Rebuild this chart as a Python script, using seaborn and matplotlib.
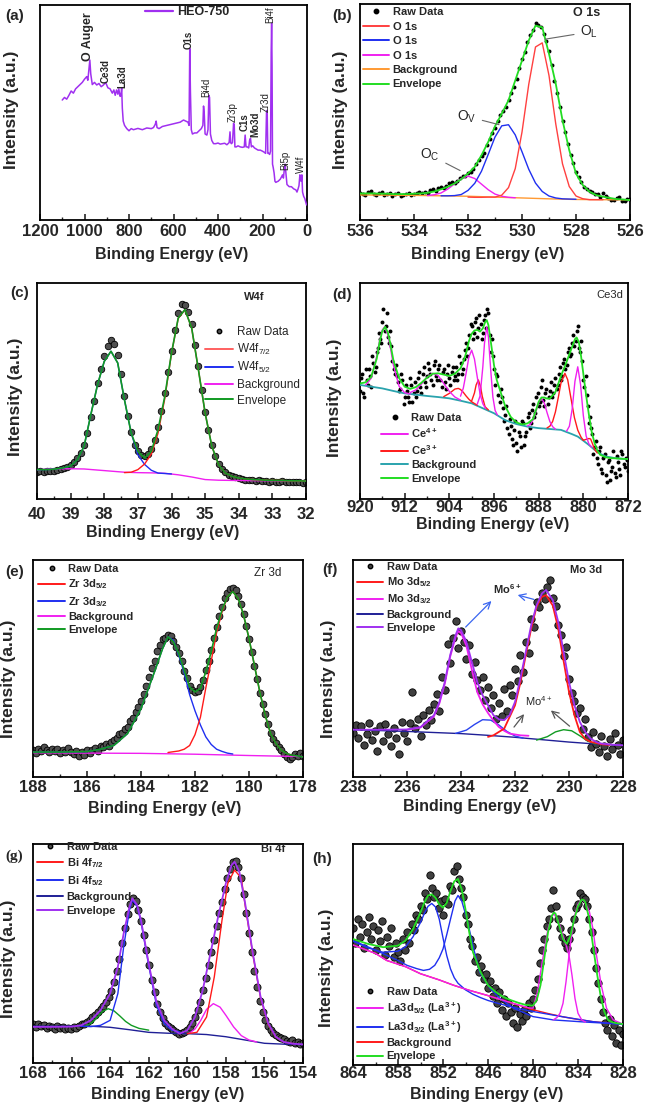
"""
XPS spectra of HEO-750: survey (a) and core levels (b)-(h).
"""

import matplotlib

matplotlib.use("Agg")
import matplotlib.pyplot as plt
import numpy as np
import pandas as pd
import seaborn as sns
from matplotlib.lines import Line2D
from matplotlib.ticker import MultipleLocator

nan = np.nan

# ---------------------------------------------------------------- (a) survey
survey_be = [1100, 1090, 1080, 1070, 1060, 1050, 1040, 1030, 1020, 1010,
             1000, 990, 985, 980, 976, 972, 965, 955, 945, 935,
             925, 915, 905, 895, 885, 875, 868, 862, 856, 850,
             846, 840, 836, 833, 830, 826, 820, 810, 800, 790,
             780, 760, 740, 720, 700, 690, 682, 678, 674, 665,
             650, 630, 610, 590, 570, 555, 545, 535, 530, 527,
             524, 520, 515, 505, 495, 485, 475, 468, 465, 462,
             458, 450, 445, 441, 438, 434, 428, 420, 410, 400,
             390, 380, 370, 360, 350, 346, 343, 340, 335, 330,
             327, 324, 318, 310, 300, 290, 282, 278, 274, 268,
             262, 258, 254, 250, 244, 236, 228, 220, 210, 200,
             192, 186, 182, 179, 176, 172, 168, 164, 161, 159,
             157, 155, 152, 148, 144, 140, 135, 130, 125, 120,
             115, 110, 106, 102, 98, 95, 90, 85, 80, 70,
             60, 50, 45, 40, 36, 32, 29, 26, 23, 20,
             15, 10, 5, 2]
survey_int = [55.8, 57.0, 56.2, 58.0, 60.0, 59.0, 61.0, 62.0, 63.0, 64.0,
              65.5, 66.7, 65.0, 70.0, 74.4, 68.0, 63.0, 64.0, 62.8, 63.5,
              62.0, 62.8, 64.0, 61.5, 61.0, 59.0, 60.5, 58.0, 60.5, 58.5,
              61.0, 57.5, 58.0, 61.5, 52.0, 46.0, 44.0, 42.5, 41.5, 42.5,
              42.0, 42.6, 42.0, 42.8, 42.5, 43.0, 44.5, 46.0, 43.0, 42.5,
              43.5, 44.0, 44.5, 45.0, 45.5, 46.5, 46.0, 45.5, 44.0, 79.8,
              60.0, 42.0, 40.0, 40.5, 40.5, 41.5, 42.5, 44.0, 53.0, 50.0,
              40.0, 39.5, 42.0, 58.0, 57.0, 40.0, 37.0, 35.5, 35.5, 35.8,
              35.3, 35.5, 35.7, 35.0, 36.0, 41.0, 36.0, 35.5, 36.0, 45.0,
              44.0, 34.0, 34.0, 34.5, 34.0, 33.8, 34.0, 39.5, 34.0, 34.0,
              33.5, 37.0, 38.0, 34.0, 34.5, 33.5, 33.0, 32.5, 32.5, 32.0,
              31.5, 31.0, 50.0, 51.0, 31.0, 31.0, 30.5, 32.0, 78.0, 91.5,
              72.0, 26.0, 24.5, 22.0, 18.0, 17.5, 17.8, 18.0, 18.5, 19.0,
              20.0, 21.0, 19.5, 23.5, 26.0, 22.0, 16.5, 16.0, 15.5, 15.5,
              14.5, 14.0, 13.0, 14.5, 16.0, 21.0, 19.0, 18.0, 21.0, 13.0,
              11.0, 10.0, 8.0, 7.0]
survey_labels = ["O Auger", "Ce3d", "La3d", "O1s", "Bi4d", "Zr3p", "C1s",
                 "Mo3d", "Zr3d", "Bi4f", "Bi5p", "W4f"]
survey_label_be = [983, 904, 829, 533, 455, 334, 282, 232, 186, 166, 96, 25]
survey_label_int = [74.0, 63.6, 61.2, 79.5, 57.4, 45.7, 41.4, 38.8, 50.4,
                    91.5, 23.3, 21.7]

# ---------------------------------------------------------------- (b) O 1s
o1s_raw_range = (536.0, 526.0)
o1s_raw = [12.5, 12.0, 11.8, 12.9, 13.4, 12.2, 11.6, 12.4, 12.9, 11.5,
           12.1, 12.7, 11.3, 11.9, 12.4, 11.2, 11.7, 12.2, 12.6, 11.6,
           11.9, 12.5, 12.8, 12.3, 13.1, 12.7, 13.9, 14.4, 13.5, 14.6,
           15.2, 14.8, 15.6, 16.9, 17.4, 17.0, 18.1, 19.4, 20.6, 20.2,
           21.9, 22.4, 23.5, 25.9, 27.8, 29.5, 31.2, 34.9, 37.6, 40.1,
           42.8, 45.9, 48.5, 50.3, 52.1, 55.7, 58.9, 61.8, 65.4, 70.2,
           74.6, 78.0, 82.3, 85.6, 88.1, 91.0, 90.5, 89.4, 86.2, 82.9,
           78.4, 71.9, 64.5, 58.6, 52.3, 46.0, 40.8, 35.2, 30.1, 26.3,
           22.4, 19.8, 17.6, 15.3, 14.2, 13.6, 13.0, 12.1, 11.9, 10.8,
           12.4, 11.0, 10.1, 9.4, 9.2, 10.3, 10.6, 9.0, 8.9, 9.9, 9.7]
o1s_env_range = (536.0, 526.0)
o1s_env = [12.3, 12.3, 12.3, 12.2, 12.2, 12.0, 12.0, 12.0, 12.2, 12.3,
           12.6, 13.2, 14.2, 15.4, 16.9, 18.9, 21.5, 24.6, 30.0, 36.2,
           43.4, 49.2, 55.4, 64.6, 73.8, 83.1, 90.0, 89.2, 76.9, 63.1,
           46.2, 32.3, 21.5, 16.2, 13.1, 11.5, 10.8, 10.2, 9.7, 9.5, 9.2]
o1s_ol_range = (532.0, 527.0)
o1s_ol = [10.6, 10.5, 10.5, 10.6, 10.6, 11.5, 15.0, 23.8, 40.7, 62.8,
          80.1, 82.0, 66.9, 44.5, 26.0, 15.5, 11.1, 9.85, 9.4, 9.4, 9.4]
o1s_ov_range = (533.0, 528.0)
o1s_ov = [11.2, 11.2, 11.3, 11.8, 13.7, 17.0, 22.6, 30.4, 38.4, 43.6,
          44.1, 39.4, 31.6, 23.5, 17.1, 13.2, 11.1, 10.2, 9.8, 9.7, 9.6]
o1s_oc_range = (533.5, 530.25)
o1s_oc = [11.3, 11.7, 12.5, 14.3, 16.7, 19.2, 20.3, 19.2, 16.6, 14.0,
          12.0, 11.0, 10.5, 10.3]
o1s_bg_be = [536, 534, 533, 532, 531, 530, 529, 528, 527, 526]
o1s_bg = [11.6, 11.4, 11.2, 11.0, 10.6, 10.2, 9.8, 9.5, 9.4, 9.3]

# ---------------------------------------------------------------- (c) W 4f
w4f_raw_range = (40.0, 32.0)
w4f_raw = [12.6, 12.9, 12.4, 12.8, 13.1, 13.0, 13.4, 13.9, 14.3, 15.0,
           15.9, 17.0, 18.9, 21.3, 25.1, 30.4, 37.9, 45.6, 53.5, 60.4,
           66.2, 70.8, 73.6, 71.9, 66.8, 57.9, 47.6, 38.2, 31.0, 25.2,
           22.4, 20.6, 20.1, 21.0, 23.2, 27.4, 33.4, 40.6, 49.2, 58.8,
           68.5, 78.4, 85.9, 90.2, 89.6, 86.4, 80.8, 71.5, 61.4, 50.4,
           40.5, 32.0, 25.1, 19.9, 16.4, 14.0, 12.4, 11.3, 10.6, 10.1,
           9.6, 9.3, 9.0, 8.6, 8.9, 8.4, 8.7, 8.2, 8.5, 8.0,
           8.3, 8.1, 7.9, 8.2, 7.8, 8.0, 7.7, 8.1, 7.8, 7.6, 7.9]
w4f_env_range = (40.0, 32.0)
w4f_env = [13.6, 13.6, 13.7, 14.0, 14.5, 15.3, 18.2, 24.4, 39.0, 52.9,
           63.7, 68.4, 63.0, 46.0, 30.6, 22.1, 19.0, 22.1, 32.1, 47.5,
           67.6, 83.8, 87.7, 79.2, 59.9, 39.8, 24.4, 15.9, 12.0, 10.5,
           9.7, 9.3, 9.0, 8.9, 8.7, 8.6, 8.6, 8.5, 8.4, 8.4, 8.3]
w4f_52_range = (40.0, 36.0)
w4f_52 = [13.6, 13.6, 13.7, 14.0, 14.5, 15.3, 18.2, 24.4, 39.0, 52.9,
          63.7, 68.4, 63.0, 46.0, 30.6, 20.5, 16.0, 13.3, 12.0, 11.8, 11.6]
w4f_72_range = (37.4, 32.0)
w4f_72 = [12.2, 12.4, 13.6, 16.2, 20.8, 30.5, 46.5, 67.4, 83.6, 87.6,
          79.2, 59.9, 39.8, 24.4, 15.9, 12.0, 10.5, 9.7, 9.3, 9.0,
          8.9, 8.7, 8.6, 8.6, 8.5, 8.4, 8.4, 8.3]
w4f_bg_be = [40, 39.6, 39.0, 38.6, 38.2, 37.8, 37.4, 37.0, 36.6, 36.2,
             35.8, 35.4, 35.0, 34.6, 34.2, 33.6, 32.0]
w4f_bg = [13.5, 14.0, 14.0, 13.9, 13.4, 12.9, 12.4, 12.2, 12.1, 11.9,
          11.2, 10.2, 9.0, 8.7, 8.6, 8.5, 8.3]

# ---------------------------------------------------------------- (d) Ce 3d
# two interleaved scans of the noisy raw data
ce_raw_range = (920.0, 872.0)
ce_raw = [50, 58, 47, 55, 60, 52, 63, 61, 70, 74, 82, 78, 86, 72, 71, 60,
          62, 54, 51, 55, 47, 50, 45, 53, 49, 47, 56, 52, 58, 54, 57, 60,
          55, 62, 57, 60, 55, 59, 54, 58, 56, 59, 55, 61, 58, 63, 60, 69,
          66, 76, 80, 77, 84, 79, 81, 77, 85, 88, 76, 74, 60, 58, 48, 51,
          42, 39, 33, 37, 28, 32, 26, 31, 24, 35, 29, 38, 33, 41, 38, 47,
          43, 52, 46, 49, 44, 50, 47, 53, 51, 58, 55, 63, 60, 68, 66, 72,
          71, 78, 70, 73, 55, 57, 43, 38, 30, 24, 19, 22, 14, 19, 11, 17,
          9, 15, 12, 20, 14, 22, 16, 19, 13]
ce_raw2_range = (919.8, 872.2)
ce_raw2 = [56, 49, 60, 53, 57, 66, 59, 68, 77, 72, 88, 80, 75, 78, 64, 58,
           57, 50, 58, 44, 53, 47, 56, 45, 54, 50, 59, 49, 61, 52, 63, 58,
           53, 64, 55, 62, 52, 60, 51, 62, 53, 61, 57, 55, 66, 58, 65, 72,
           70, 81, 74, 82, 75, 85, 74, 83, 79, 86, 68, 66, 53, 57, 45, 47,
           36, 43, 30, 34, 25, 36, 22, 29, 36, 25, 31, 40, 35, 44, 40, 49,
           45, 55, 43, 51, 47, 54, 49, 56, 53, 61, 57, 65, 62, 70, 67, 76,
           73, 80, 68, 64, 52, 48, 35, 33, 21, 27, 16, 24, 12, 21, 8, 18,
           13, 22, 10, 17, 11, 21, 15, 18]
ce_env_be = [920, 919, 918, 917, 916.5, 916, 915.5, 915, 914.5, 914,
             913, 912, 911, 910, 909, 908, 907, 906, 905, 904,
             903, 902, 901.5, 901, 900.5, 900, 899.5, 899, 898.5, 898,
             897.6, 897.3, 897, 896.5, 896, 895.5, 895, 894, 893, 892,
             891, 890, 889, 888.5, 888, 887.5, 887, 886.5, 886, 885,
             884, 883, 882.5, 882, 881.5, 881.2, 880.8, 880.4, 880, 879.5,
             879, 878.5, 878, 877.5, 877, 876, 875, 874, 873, 872]
ce_env = [53.5, 54.0, 56.5, 65.0, 72.5, 77.8, 79.7, 77.0, 71.0, 64.0,
          56.0, 52.0, 51.0, 51.8, 53.8, 56.2, 58.0, 58.2, 57.6, 57.0,
          58.0, 60.5, 63.5, 67.5, 73.0, 76.5, 78.0, 78.3, 77.5, 79.0,
          81.8, 82.8, 80.5, 71.5, 62.0, 55.0, 51.0, 43.0, 38.0, 35.5,
          34.5, 35.0, 37.0, 41.0, 45.0, 47.0, 47.0, 46.5, 46.5, 49.5,
          57.0, 63.5, 67.0, 70.5, 74.0, 74.8, 72.5, 66.0, 58.0, 48.0,
          39.0, 31.0, 26.0, 22.5, 20.5, 19.3, 18.9, 18.8, 18.6, 18.5]
ce4_be = [919, 918, 917, 916.5, 916, 915.6, 915, 914.5, 914, 913, 912, 911, nan,
          911, 910, 909, 908, 907, 906, 905, 904, 903, 902, nan,
          902, 901.5, 901, 900.5, 900, 899.5, 899, 898.5, 898, 897.5, nan,
          899, 898.5, 898, 897.7, 897.3, 897, 896.6, 896.2, 895.8, 895.4, nan,
          890, 889.5, 889, 888.5, 888, 887.5, 887, 886.5, 886, 885.5, 885, nan,
          883, 882.5, 882, 881.5, 881, 880.5, 880, 879.5, 879, 878.5]
ce4 = [52.8, 55.9, 66.1, 73.1, 78.3, 79.7, 76.0, 69.2, 61.8, 52.2, 49.2, 48.6, nan,
       49.3, 50.5, 53.2, 56.4, 58.2, 57.1, 53.5, 49.8, 47.2, 45.8, nan,
       47.6, 51.3, 58.2, 65.7, 68.9, 64.8, 56.5, 48.7, 44.1, 41.9, nan,
       43.9, 47.7, 61.2, 72.2, 79.7, 74.9, 60.1, 47.2, 41.0, 38.9, nan,
       33.8, 34.5, 36.6, 40.4, 44.7, 46.6, 44.5, 40.0, 35.9, 33.5, 32.3, nan,
       31.4, 33.7, 41.6, 54.5, 61.2, 53.0, 38.6, 29.2, 25.5, 24.0]
ce3_be = [905, 904, 903.5, 903, 902.4, 902, 901.5, 901, 900.5, 900, 899, nan,
          900, 899.5, 899.2, 898.8, 898.4, 898.1, 897.6, 897, nan,
          886.5, 886, 885.5, 885, 884.5, 884, 883.3, 882.8, 882.2, 881.6, 881,
          880.4, 880, nan,
          880, 879.5, 879, 878.7, 878.3, 878, 877.5]
ce3 = [47.4, 48.9, 49.9, 50.9, 51.2, 50.7, 49.4, 47.7, 46.2, 45.0, 43.4, nan,
       45.4, 49.1, 52.8, 55.1, 51.9, 47.5, 42.7, 41.2, nan,
       32.9, 33.7, 35.9, 40.3, 46.8, 53.8, 58.2, 55.2, 46.4, 37.7, 31.9,
       28.6, 27.2, nan,
       27.2, 27.6, 28.0, 27.8, 25.2, 23.0, 21.3]
ce_bg_be = [920, 918, 916, 914, 912, 910, 908, 906, 904, 902, 900, 898, 896,
            894, 892, 890, 888, 886, 884, 882, 881, 880, 879, 878, 877, 876,
            874, 872]
ce_bg = [52.8, 52.0, 51.2, 50.0, 48.9, 48.3, 47.7, 47.2, 46.6, 45.5, 44.3,
         42.0, 39.7, 36.5, 34.7, 33.5, 32.8, 32.4, 32.0, 30.0, 28.9, 27.0,
         25.0, 22.8, 21.0, 19.7, 18.8, 18.5]

# ---------------------------------------------------------------- (e) Zr 3d
zr_raw_range = (188.0, 178.0)
zr_raw = [12.6, 11.2, 13.1, 12.0, 14.0, 12.4, 11.5, 13.0, 11.8, 12.9,
          11.1, 12.6, 11.4, 13.3, 11.7, 10.4, 12.1, 9.6, 11.5, 10.2,
          12.3, 11.0, 12.6, 13.4, 11.9, 14.1, 13.6, 15.2, 14.5, 16.3,
          17.0, 18.1, 19.6, 20.4, 22.3, 23.0, 25.6, 27.4, 29.9, 32.3,
          35.2, 38.4, 42.1, 45.9, 50.3, 53.5, 57.9, 60.8, 63.4, 64.0,
          65.6, 64.9, 62.6, 60.0, 57.2, 53.3, 49.0, 45.4, 42.0, 40.3,
          39.1, 39.6, 41.5, 44.7, 49.3, 53.5, 58.6, 63.9, 69.0, 74.1,
          78.2, 82.3, 84.6, 86.5, 87.0, 86.2, 83.5, 79.9, 75.3, 69.6,
          63.4, 57.4, 51.3, 45.2, 38.8, 33.6, 28.9, 24.3, 20.5, 17.6,
          15.8, 13.9, 12.6, 10.4, 9.0, 8.1, 9.3, 10.5, 9.8, 11.2, 9.6]
zr_env_be = [188, 187, 186, 185.5, 185, 184.5, 184, 183.5, 183.2, 183,
             182.8, 182.6, 182.4, 182.2, 182, 181.8, 181.6, 181.4, 181.2, 181,
             180.8, 180.6, 180.4, 180.2, 180, 179.8, 179.6, 179.4, 179.2, 179,
             178.8, 178.6, 178.4, 178.2, 178]
zr_env = [11.5, 11.5, 11.7, 12.8, 14.6, 20.0, 31.5, 48.5, 59.2, 64.6,
          62.3, 56.9, 49.2, 41.5, 39.2, 40.8, 48.5, 57.7, 68.5, 76.9,
          83.1, 85.4, 82.3, 74.6, 63.8, 51.5, 39.2, 28.5, 20.0, 15.4,
          12.3, 10.8, 10.0, 9.7, 9.2]
zr_32_be = [188, 187, 186, 185.5, 185, 184.5, 184, 183.5, 183.2, 183,
            182.8, 182.6, 182.4, 182.2, 182, 181.8, 181.6, 181.4, 181.2, 181,
            180.8, 180.6]
zr_32 = [11.5, 11.5, 11.7, 12.8, 14.6, 20.0, 31.5, 48.5, 59.2, 64.6,
         63.0, 56.0, 48.0, 38.0, 30.5, 24.0, 18.5, 15.0, 12.8, 11.8,
         11.0, 10.6]
zr_52_be = [183, 182.6, 182.4, 182.2, 182, 181.8, 181.6, 181.4, 181.2, 181,
            180.8, 180.6, 180.4, 180.2, 180, 179.8, 179.6, 179.4, 179.2, 179,
            178.8, 178.6, 178.4]
zr_52 = [11.3, 12.0, 12.8, 14.5, 19.5, 27.5, 41.0, 53.5, 66.5, 76.0,
         83.1, 85.4, 82.3, 74.6, 63.8, 51.5, 39.2, 28.5, 20.0, 15.4,
         12.3, 10.8, 10.0]
zr_bg_be = [188, 186, 184, 182, 180, 178]
zr_bg = [11.2, 11.0, 10.9, 10.5, 9.9, 9.4]

# ---------------------------------------------------------------- (f) Mo 3d
mo_raw_range = (238.0, 228.0)
mo_raw = [20.5, 24.1, 18.2, 23.5, 14.8, 19.6, 25.0, 17.1, 21.3, 12.0,
          23.7, 16.4, 24.6, 19.9, 14.1, 22.8, 18.0, 10.8, 25.3, 20.4,
          16.5, 24.9, 39.0, 22.6, 26.5, 19.1, 28.4, 24.0, 30.7, 26.3,
          33.5, 38.2, 30.6, 46.3, 40.1, 61.5, 52.7, 64.2, 71.8, 59.6,
          67.3, 62.0, 54.4, 60.8, 47.6, 52.9, 44.5, 40.2, 46.0, 35.4,
          41.3, 31.8, 37.6, 26.9, 34.2, 28.1, 40.5, 30.4, 42.6, 38.0,
          49.8, 44.1, 56.2, 48.3, 62.4, 57.0, 72.9, 69.1, 80.5, 78.3,
          84.9, 82.0, 87.4, 91.0, 82.6, 78.9, 70.2, 65.5, 55.8, 60.1,
          45.3, 38.7, 35.0, 29.3, 31.6, 22.0, 26.8, 18.5, 13.9, 20.7,
          15.3, 11.6, 18.9, 14.2, 9.8, 17.5, 12.7, 20.1, 14.6, 10.5, 16.9]
mo_env_be = [238, 237, 236, 235.5, 235, 234.8, 234.6, 234.4, 234.2, 234.1,
             234, 233.8, 233.6, 233.4, 233.2, 233, 232.8, 232.6, 232.4, 232.2,
             232, 231.8, 231.6, 231.4, 231.2, 231, 230.85, 230.6, 230.4, 230.2,
             230, 229.8, 229.6, 229.4, 229.2, 229, 228.8, 228.4, 228]
mo_env = [21.8, 21.8, 21.9, 23.0, 28.5, 34.6, 43.8, 56.2, 65.4, 68.5,
          67.7, 62.3, 53.1, 43.8, 37.7, 33.1, 28.5, 26.6, 26.2, 28.5,
          34.6, 45.4, 57.7, 70.0, 79.2, 84.6, 86.2, 81.5, 71.5, 57.7,
          43.8, 33.1, 25.4, 20.8, 17.7, 16.2, 15.4, 14.9, 14.6]
mo_32_be = [236, 235.5, 235, 234.8, 234.6, 234.4, 234.2, 234.1, 234, 233.8,
            233.6, 233.4, 233.2, 233, 232.8, 232.6, 232.4, 232.2, 232, 231.8,
            231.5]
mo_32 = [21.8, 22.8, 28.0, 34.0, 43.0, 55.5, 64.5, 67.2, 66.5, 60.5,
         49.5, 39.2, 33.5, 29.5, 26.0, 23.1, 21.3, 20.0, 19.6, 19.2, 19.0]
mo_52_be = [233, 232.8, 232.4, 232, 231.8, 231.6, 231.4, 231.2, 231, 230.85,
            230.6, 230.4, 230.2, 230, 229.8, 229.6, 229.4, 229.2, 228.8, 228.5]
mo_52 = [18.5, 19.2, 22.3, 33.0, 43.5, 56.2, 68.5, 78.5, 83.0, 83.8,
         79.0, 68.5, 53.5, 39.2, 28.5, 20.8, 17.5, 16.2, 15.1, 14.8]
mo4_32_be = [234.2, 233.8, 233.5, 233.2, 232.9, 232.6, 232.3, 232.0, 231.7]
mo4_32 = [20.1, 21.6, 24.2, 26.4, 26.2, 24.0, 21.0, 18.9, 17.9]
mo4_52_be = [231.2, 230.8, 230.5, 230.2, 229.9, 229.6, 229.3, 229.0]
mo4_52 = [17.0, 18.6, 20.8, 21.8, 21.3, 19.0, 16.5, 15.2]
mo_bg_be = [238, 236, 234, 233, 232, 231, 230, 229, 228]
mo_bg = [21.8, 21.0, 20.0, 19.2, 18.3, 17.2, 16.1, 15.2, 14.6]

# ---------------------------------------------------------------- (g) Bi 4f
bi_raw_range = (168.0, 154.0)
bi_raw = [17.6, 16.4, 17.9, 16.8, 17.3, 16.1, 17.0, 16.5, 15.6, 16.9,
          15.9, 16.6, 15.4, 16.2, 15.7, 16.4, 16.0, 16.9, 17.6, 18.0,
          18.9, 19.8, 20.9, 21.9, 23.3, 24.6, 26.0, 27.9, 30.2, 33.0,
          37.0, 42.0, 47.5, 54.8, 61.5, 68.0, 72.6, 75.4, 74.1, 70.0,
          64.7, 58.6, 51.6, 44.8, 38.1, 32.2, 27.1, 23.2, 20.4, 18.3,
          16.9, 15.8, 14.9, 14.0, 13.1, 13.6, 14.1, 15.2, 16.5, 18.3,
          21.0, 24.0, 28.0, 33.3, 38.6, 44.8, 50.9, 56.3, 62.7, 68.4,
          73.6, 79.3, 84.4, 88.7, 91.6, 92.3, 89.7, 84.6, 77.3, 68.6,
          59.5, 50.6, 41.9, 34.6, 28.3, 23.1, 19.7, 17.0, 15.2, 13.9,
          12.8, 12.1, 11.2, 10.9, 10.1, 9.8, 10.4, 9.1, 9.6, 8.7, 9.2]
bi_env_be = [168, 167, 166, 165.5, 165, 164.5, 164, 163.6, 163.3, 163,
             162.85, 162.6, 162.4, 162, 161.6, 161.2, 160.8, 160.4, 160, 159.6,
             159.2, 158.8, 158.4, 158, 157.7, 157.55, 157.3, 157, 156.6, 156.2,
             155.8, 155.4, 155, 154.5, 154]
bi_env = [16.5, 16.5, 16.6, 17.2, 19.5, 24.1, 31.7, 43.9, 59.1, 71.3,
          75.2, 72.1, 65.2, 45.4, 27.9, 19.5, 15.7, 13.4, 14.9, 21.0,
          33.2, 50.0, 66.8, 82.0, 90.4, 91.9, 87.3, 72.9, 50.0, 30.2,
          18.0, 11.9, 9.6, 8.8, 8.5]
bi_52_be = [165.5, 165, 164.5, 164, 163.6, 163.3, 163, 162.85, 162.6, 162.4,
            162, 161.6, 161.2, 160.8, 160.4]
bi_52 = [16.8, 16.6, 17.2, 19.5, 31.7, 53.0, 69.8, 74.4, 71.5, 64.5,
         44.5, 26.5, 18.0, 15.0, 14.2]
bi_sat_be = [165.3, 165, 164.7, 164.4, 164.1, 163.8, 163.5, 163.2, 162.9,
             162.5, 162]
bi_sat = [16.8, 18.0, 20.5, 23.5, 24.8, 23.8, 21.5, 19.0, 17.2, 15.8, 15.0]
bi_72_be = [160, 159.5, 159, 158.6, 158.2, 157.9, 157.55, 157.2, 157, 156.6,
            156.2, 155.8, 155.4, 155, 154.5]
bi_72 = [13.4, 14.0, 21.0, 39.3, 65.2, 82.0, 88.1, 84.5, 72.0, 49.5,
         29.8, 17.6, 11.8, 9.6, 8.8]
bi_sh_be = [159.9, 159.6, 159.3, 159.0, 158.65, 158.3, 158.0, 157.6, 157.2,
            156.8, 156.4]
bi_sh = [13.6, 15.5, 19.5, 24.5, 27.1, 25.5, 21.8, 16.5, 12.5, 10.5, 9.6]
bi_bg_be = [168, 165, 164, 163, 162, 161, 160, 159, 158, 157, 156, 155, 154]
bi_bg = [16.8, 16.8, 16.3, 15.2, 14.0, 13.6, 13.4, 13.0, 12.0, 10.5, 9.0,
         8.6, 8.4]

# ---------------------------------------------------------------- (h) La 3d
la_raw_range = (864.0, 828.0)
la_raw = [62, 55, 66, 58, 64, 53, 60, 67, 57, 63, 52, 61, 56, 65, 50, 58,
          54, 62, 49, 55, 51, 47, 57, 52, 60, 55, 64, 61, 68, 66, 72, 70,
          78, 75, 86, 80, 76, 78, 71, 74, 68, 75, 73, 81, 79, 88, 90, 84,
          80, 76, 68, 64, 57, 54, 47, 49, 42, 45, 39, 41, 35, 38, 31, 35,
          28, 33, 25, 30, 22, 28, 24, 19, 26, 17, 23, 20, 25, 22, 28, 26,
          30, 34, 39, 46, 52, 57, 63, 66, 71, 79, 72, 66, 62, 58, 55, 53,
          57, 61, 66, 71, 73, 78, 76, 75, 72, 66, 60, 52, 44, 37, 30, 24,
          19, 16, 21, 13, 18, 10, 16, 9, 14]
la_env_be = [864, 862, 860, 858, 857, 856, 855, 854.5, 854, 853.5,
             853, 852.5, 852, 851.5, 851, 850.5, 850, 849.5, 849, 848.5,
             848, 847, 846, 845, 844, 843, 842, 841, 840, 839.5,
             839, 838.5, 838, 837.5, 837.2, 837, 836.5, 836, 835.5, 835,
             834.5, 834, 833.5, 833.2, 833, 832.5, 832, 831.5, 831, 830.5,
             830, 829.5, 829, 828]
la_env = [57.0, 54.8, 53.3, 54.0, 56.3, 61.5, 69.0, 73.4, 76.7, 77.2,
          75.7, 72.7, 71.2, 73.4, 78.7, 83.1, 84.2, 79.4, 70.4, 60.0,
          51.0, 42.1, 36.1, 33.1, 30.9, 29.4, 28.2, 27.2, 26.9, 29.4,
          36.1, 48.1, 60.0, 67.5, 69.0, 68.5, 63.0, 57.0, 54.8, 58.5,
          66.0, 71.9, 74.9, 74.6, 73.4, 66.0, 54.0, 42.1, 31.6, 24.2,
          20.4, 19.4, 19.0, 18.5]
la32_be = [864, 862, 860, 858, 857, 856, 855, 854.5, 854, 853.5, 853, 852.5,
           852, 851.5, 851, 850.5, 850, 849, 848, 847, 846, 845, 844, 842,
           840, 836, 832, 828, nan,
           864, 861, 859.5, 858, 856.8, 855.5, 854.6, 853.8, 853.1, 852.5,
           852, 851.5, 851, 850.4, 850, 849.5, 848.8, 848.3, 847.9, 847.1,
           845.7, 844.4, 842.6, 840, 837.3, 832.9, 828]
la32 = [56.0, 53.0, 51.0, 51.5, 53.5, 58.0, 64.5, 68.5, 71.8, 73.1, 71.5, 66.0,
        57.5, 49.5, 43.5, 39.5, 37.0, 34.0, 32.0, 30.5, 29.2, 28.2, 27.3, 25.6,
        24.2, 21.8, 19.6, 18.3, nan,
        56.3, 52.0, 49.6, 47.3, 45.1, 43.6, 42.8, 43.3, 45.1, 48.5,
        52.5, 59.0, 66.0, 74.2, 76.7, 74.2, 66.0, 58.5, 52.5, 42.0,
        34.6, 30.1, 25.7, 21.9, 20.4, 19.4, 18.5]
la52_be = [864, 861, 859.5, 857, 855, 852.5, 850.6, 848.5, 846.2, 844, 842,
           840.5, 840, 839.4, 838.7, 838, 837.5, 837.2, 836.8, 836.4, 836,
           835.5, 835.2, 834.8, 834.4, 834, 833.5, 833, nan,
           837.3, 836.8, 836.4, 836, 835.6, 835.2, 834.8, 834.4, 834, 833.5,
           833.2, 832.5, 832, 831.6, 830.9, 830.2, 829.3, 828]
la52 = [54.3, 50.5, 47.3, 44.5, 41.3, 38.5, 36.1, 33.8, 31.6, 29.3, 27.2,
        25.8, 25.7, 33.1, 48.1, 61.5, 67.5, 68.2, 66.5, 63.0, 58.5,
        53.3, 49.6, 40.6, 30.1, 23.4, 20.4, 19.4, nan,
        20.4, 21.5, 23.4, 27.9, 37.6, 49.6, 60.0, 68.2, 72.7, 74.9,
        74.2, 69.7, 61.5, 51.0, 36.1, 25.7, 20.4, 18.5]
la_bg_be = [864, 861, 859.5, 857, 855, 852.5, 850.6, 848.5, 846.2, 844, 842,
            840, 838, 836, 834, 832, 830, 828]
la_bg = [54.3, 50.5, 47.3, 44.5, 41.3, 38.5, 36.1, 33.8, 31.6, 29.3, 27.2,
         25.0, 23.3, 21.8, 20.6, 19.6, 19.0, 18.5]

# ---------------------------------------------------------------- styling
W, H = 645, 1110
RED, BLUE, MAGENTA = "#ff1a1a", "#1f2ff0", "#f020f0"
GREEN, DGREEN = "#22dd22", "#119a22"
ORANGE, TEAL, NAVY, PURPLE = "#ff9a33", "#2aa3ad", "#1f1f96", "#a030f0"

sns.set_theme(style="white")
plt.rcParams["font.family"] = ["Liberation Sans", "DejaVu Sans"]
plt.rcParams["font.weight"] = "bold"
plt.rcParams["mathtext.default"] = "regular"
plt.rcParams["axes.edgecolor"] = "black"

fig = plt.figure(figsize=(W / 100, H / 100), dpi=100)


def panel(left, top, right, bottom):
    return fig.add_axes([left / W, 1 - bottom / H, (right - left) / W,
                         (bottom - top) / H])


def style(ax, xlim, major, minor, pad):
    ax.set_xlim(*xlim)
    ax.set_ylim(0, 100)
    ax.xaxis.set_major_locator(MultipleLocator(major))
    ax.xaxis.set_minor_locator(MultipleLocator(minor))
    ax.set_yticks([])
    ax.tick_params(axis="x", which="major", direction="in", length=4,
                   width=1.2, labelsize=12, pad=pad, bottom=True)
    ax.tick_params(axis="x", which="minor", direction="in", length=2.5,
                   width=1.0, bottom=True)
    for lbl in ax.get_xticklabels():
        lbl.set_fontweight("bold")
    for sp in ax.spines.values():
        sp.set_linewidth(1.3)
        sp.set_color("black")
    ax.set_xlabel("")
    ax.set_ylabel("")


def labels(tag, tag_xy, xl_xy, yl_xy, tag_font=None):
    fig.text(tag_xy[0] / W, 1 - tag_xy[1] / H, tag, ha="center", va="center",
             fontsize=11, fontweight="bold",
             family=tag_font or ["Liberation Sans"])
    fig.text(xl_xy[0] / W, 1 - xl_xy[1] / H, "Binding Energy (eV)",
             ha="center", va="center", fontsize=11.5, fontweight="bold")
    fig.text(yl_xy[0] / W, 1 - yl_xy[1] / H, "Intensity (a.u.)",
             ha="center", va="center", rotation=90, fontsize=12.5,
             fontweight="bold")


def line(ax, be, inten, color, lw=1.0, z=3):
    be = np.asarray(be, float)
    inten = np.asarray(inten, float)
    seg = np.cumsum(np.isnan(be))
    ok = ~np.isnan(be)
    df = pd.DataFrame({"be": be[ok], "i": inten[ok], "seg": seg[ok]})
    sns.lineplot(data=df, x="be", y="i", units="seg", estimator=None,
                 sort=False, color=color, linewidth=lw, ax=ax, zorder=z,
                 legend=False)


def grid_line(ax, rng, inten, color, lw=1.0, z=3):
    line(ax, np.linspace(rng[0], rng[1], len(inten)), inten, color, lw, z)


def raw(ax, rng, inten, s, face, edge="black", lw=0.5):
    be = np.linspace(rng[0], rng[1], len(inten))
    sns.scatterplot(x=be, y=inten, ax=ax, s=s, color=face, edgecolor=edge,
                    linewidth=lw, zorder=2, legend=False)


def legend(ax, entries, anchor, size=8, spacing=0.3, hl=2.4, weight="bold"):
    handles = []
    for lab, kind, color in entries:
        if kind == "dot":
            handles.append(Line2D([], [], ls="none", marker="o", ms=3.2,
                                  mfc=color, mec="black", label=lab))
        else:
            handles.append(Line2D([], [], color=color, lw=1.4, label=lab))
    ax.legend(handles=handles, loc="upper left", bbox_to_anchor=anchor,
              frameon=False, borderpad=0, borderaxespad=0,
              handletextpad=0.3, handlelength=hl, labelspacing=spacing,
              prop={"size": size, "weight": weight})


# (a) survey ---------------------------------------------------------------
ax = panel(40, 5, 307, 220)
line(ax, survey_be, survey_int, PURPLE, lw=1.1)
style(ax, (1200, 0), 200, 100, 3)
bold_tags = {"O Auger", "Ce3d", "La3d", "O1s", "C1s", "Mo3d"}
for lab, be, y in zip(survey_labels, survey_label_be, survey_label_int):
    ax.text(be, y, lab, rotation=90, ha="center", va="bottom",
            fontsize=9 if lab == "O Auger" else 7,
            fontweight="bold" if lab in bold_tags else "normal")
ax.legend(handles=[Line2D([], [], color=PURPLE, lw=1.6, label="HEO-750")],
          loc="upper left", bbox_to_anchor=(0.395, 0.995), frameon=False,
          borderpad=0, borderaxespad=0, handletextpad=0.3, handlelength=2.2,
          prop={"size": 9, "weight": "bold"})
labels("(a)", (15, 16), (172, 254), (12, 110))

# (b) O 1s -------------------------------------------------------------------
ax = panel(360, 4, 630, 220)
raw(ax, o1s_raw_range, o1s_raw, 8, "black", "black", 0)
line(ax, o1s_bg_be, o1s_bg, ORANGE)
grid_line(ax, o1s_oc_range, o1s_oc, MAGENTA)
grid_line(ax, o1s_ov_range, o1s_ov, BLUE)
grid_line(ax, o1s_ol_range, o1s_ol, "#ff4040")
grid_line(ax, o1s_env_range, o1s_env, GREEN, lw=1.3)
style(ax, (536, 526), 2, 1, 3)
gray = dict(arrowstyle="-", color="#666666", lw=0.8)
ax.annotate("O$_{L}$", xy=(529.25, 83.5), xytext=(527.85, 87), ha="left",
            va="center", fontsize=10, fontweight="normal", arrowprops=gray)
ax.annotate("O$_{V}$", xy=(530.75, 43.8), xytext=(532.05, 48), ha="center",
            va="center", fontsize=10, fontweight="normal", arrowprops=gray)
ax.annotate("O$_{C}$", xy=(532.2, 22.3), xytext=(533.4, 30), ha="center",
            va="center", fontsize=10, fontweight="normal", arrowprops=gray)
ax.text(527.6, 96, "O 1s", ha="center", va="center", fontsize=9)
legend(ax, [("Raw Data", "dot", "black"), ("O 1s", "line", "#ff4040"),
            ("O 1s", "line", BLUE), ("O 1s", "line", MAGENTA),
            ("Background", "line", ORANGE), ("Envelope", "line", GREEN)],
       (0.01, 0.985), spacing=0.4)
labels("(b)", (342, 16), (488, 254), (340, 110))

# (c) W 4f -------------------------------------------------------------------
ax = panel(37, 283, 306, 499)
raw(ax, w4f_raw_range, w4f_raw, 22, "#505050", "black", 0.6)
line(ax, w4f_bg_be, w4f_bg, MAGENTA)
grid_line(ax, w4f_52_range, w4f_52, BLUE)
grid_line(ax, w4f_72_range, w4f_72, RED)
grid_line(ax, w4f_env_range, w4f_env, DGREEN, lw=1.2)
style(ax, (40, 32), 1, 0.5, 6)
ax.text(0.807, 0.935, "W4f", transform=ax.transAxes, ha="center",
        va="center", fontsize=8)
legend(ax, [("Raw Data", "dot", "#505050"),
            ("W4f$_{7/2}$", "line", "#ff6060"),
            ("W4f$_{5/2}$", "line", BLUE), ("Background", "line", MAGENTA),
            ("Envelope", "line", DGREEN)],
       (0.625, 0.80), size=8.5, spacing=0.3, weight="normal")
labels("(c)", (20, 293), (163, 532), (16, 397))

# (d) Ce 3d ------------------------------------------------------------------
ax = panel(360, 283, 628, 499)
raw(ax, ce_raw_range, ce_raw, 8, "black", "black", 0)
raw(ax, ce_raw2_range, ce_raw2, 8, "black", "black", 0)
line(ax, ce_bg_be, ce_bg, TEAL, lw=1.3)
line(ax, ce3_be, ce3, RED)
line(ax, ce4_be, ce4, MAGENTA)
line(ax, ce_env_be, ce_env, GREEN, lw=1.3)
style(ax, (920, 872), 8, 4, 1)
ax.text(0.933, 0.944, "Ce3d", transform=ax.transAxes, ha="center",
        va="center", fontsize=8, fontweight="normal")
legend(ax, [("Raw Data", "dot", "black"), ("Ce$^{4+}$", "line", MAGENTA),
            ("Ce$^{3+}$", "line", RED), ("Background", "line", TEAL),
            ("Envelope", "line", GREEN)],
       (0.08, 0.40), spacing=0.3)
labels("(d)", (342, 295), (493, 524), (334, 398))

# (e) Zr 3d ------------------------------------------------------------------
ax = panel(33, 560, 303, 777)
raw(ax, zr_raw_range, zr_raw, 24, "#505050", "black", 0.6)
line(ax, zr_bg_be, zr_bg, MAGENTA)
line(ax, zr_32_be, zr_32, BLUE)
line(ax, zr_52_be, zr_52, RED)
line(ax, zr_env_be, zr_env, DGREEN, lw=1.2)
style(ax, (188, 178), 2, 1, 2.5)
ax.text(0.87, 0.94, "Zr 3d", transform=ax.transAxes, ha="center",
        va="center", fontsize=8.5, fontweight="normal")
legend(ax, [("Raw Data", "dot", "#505050"),
            ("Zr 3d$_{5/2}$", "line", RED), ("Zr 3d$_{3/2}$", "line", BLUE),
            ("Background", "line", MAGENTA), ("Envelope", "line", DGREEN)],
       (0.02, 0.98), spacing=0.3)
labels("(e)", (15, 572), (165, 808), (9, 679))

# (f) Mo 3d ------------------------------------------------------------------
ax = panel(353, 560, 623, 777)
raw(ax, mo_raw_range, mo_raw, 28, "#404040", "black", 0.6)
line(ax, mo_bg_be, mo_bg, NAVY)
line(ax, mo4_32_be, mo4_32, "#2a44ee")
line(ax, mo4_52_be, mo4_52, DGREEN)
line(ax, mo_32_be, mo_32, MAGENTA, lw=1.3)
line(ax, mo_52_be, mo_52, RED, lw=1.3)
line(ax, mo_env_be, mo_env, PURPLE, lw=1.3)
style(ax, (238, 228), 2, 1, 2.5)
blue_arrow = dict(arrowstyle="->", color="#3a66f0", lw=0.9)
gray_arrow = dict(arrowstyle="->", color="#555555", lw=0.9)
ax.text(232.3, 86.5, "Mo$^{6+}$", ha="center", va="center", fontsize=8)
ax.annotate("", xy=(232.8, 82.0), xytext=(233.9, 68.2), arrowprops=blue_arrow)
ax.annotate("", xy=(232.0, 84.2), xytext=(231.2, 81.5), arrowprops=blue_arrow)
ax.text(231.1, 34.9, "Mo$^{4+}$", ha="center", va="center", fontsize=8,
        fontweight="normal")
ax.annotate("", xy=(231.6, 30.0), xytext=(232.1, 22.0), arrowprops=gray_arrow)
ax.annotate("", xy=(230.75, 31.5), xytext=(229.9, 22.6),
            arrowprops=gray_arrow)
ax.text(0.863, 0.954, "Mo 3d", transform=ax.transAxes, ha="center",
        va="center", fontsize=8)
legend(ax, [("Raw Data", "dot", "#404040"),
            ("Mo 3d$_{5/2}$", "line", RED), ("Mo 3d$_{3/2}$", "line", MAGENTA),
            ("Background", "line", NAVY), ("Envelope", "line", PURPLE)],
       (0.013, 0.99), spacing=0.3)
labels("(f)", (330, 570), (480, 807), (328, 679))

# (g) Bi 4f ------------------------------------------------------------------
ax = panel(33, 844, 303, 1063)
raw(ax, bi_raw_range, bi_raw, 26, "#505050", "black", 0.6)
line(ax, bi_bg_be, bi_bg, NAVY)
line(ax, bi_sat_be, bi_sat, DGREEN)
line(ax, bi_sh_be, bi_sh, MAGENTA)
line(ax, bi_52_be, bi_52, BLUE)
line(ax, bi_72_be, bi_72, RED)
line(ax, bi_env_be, bi_env, PURPLE, lw=1.3)
style(ax, (168, 154), 2, 1, 2)
ax.text(0.889, 0.977, "Bi 4f", transform=ax.transAxes, ha="center",
        va="center", fontsize=8)
legend(ax, [("Raw Data", "dot", "#505050"),
            ("Bi 4f$_{7/2}$", "line", RED), ("Bi 4f$_{5/2}$", "line", BLUE),
            ("Background", "line", NAVY), ("Envelope", "line", PURPLE)],
       (0.013, 1.01), spacing=0.38)
labels("(g)", (14, 856), (168, 1095), (9, 959),
       tag_font=["Liberation Serif"])

# (h) La 3d ------------------------------------------------------------------
ax = panel(353, 844, 623, 1065)
raw(ax, la_raw_range, la_raw, 28, "#404040", "black", 0.6)
line(ax, la_bg_be, la_bg, RED)
line(ax, la32_be, la32, BLUE)
line(ax, la52_be, la52, MAGENTA)
line(ax, la_env_be, la_env, GREEN, lw=1.3)
style(ax, (864, 828), 6, 3, 0.5)
legend(ax, [("Raw Data", "dot", "#404040"),
            ("La3d$_{5/2}$ (La$^{3+}$)", "line", MAGENTA),
            ("La3d$_{3/2}$ (La$^{3+}$)", "line", BLUE),
            ("Background", "line", RED), ("Envelope", "line", GREEN)],
       (0.013, 0.355), spacing=0.3)
labels("(h)", (322, 859), (487, 1095), (326, 968))

fig.savefig("out.png", dpi=100)
